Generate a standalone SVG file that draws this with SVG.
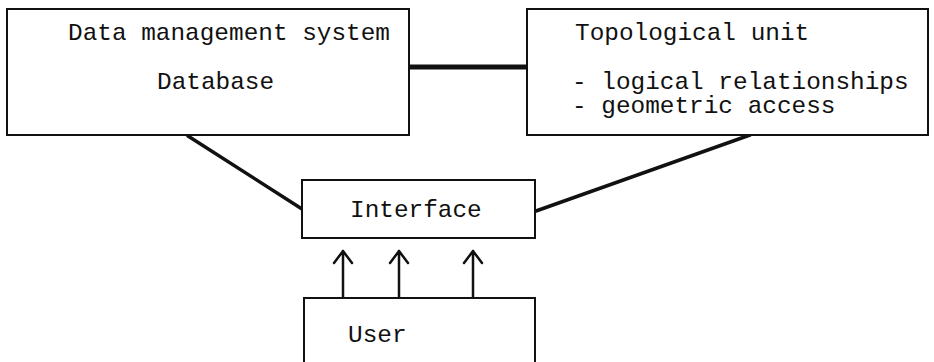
<svg xmlns="http://www.w3.org/2000/svg" width="934" height="362" viewBox="0 0 934 362">
<defs>
<style>
.box{fill:#fff;stroke:#111;stroke-width:2}
.t{font-family:"Liberation Mono","Courier New",monospace;font-size:24.4px;fill:#111}
.c{stroke:#111;stroke-width:3.5;fill:none;stroke-linecap:round}
.a{stroke:#111;stroke-width:2.5;fill:none;stroke-linecap:round;stroke-linejoin:round}
</style>
</defs>
<rect width="934" height="362" fill="#fff"/>
<g id="connectors">
<line class="c" x1="409" y1="67" x2="526" y2="67" style="stroke-width:5"/>
<line class="c" x1="188" y1="136" x2="302" y2="209"/>
<line class="c" x1="750" y1="135" x2="536" y2="211"/>
<path class="a" d="M343,297 V251 M334,263 L343,251 L352,263"/>
<path class="a" d="M399,297 V251 M390,263 L399,251 L408,263"/>
<path class="a" d="M473,297 V251 M464,263 L473,251 L482,263"/>
</g>
<g id="dms">
<rect class="box" x="7" y="9" width="402" height="126"/>
<text class="t" x="68" y="40">Data management system</text>
<text class="t" x="157" y="89">Database</text>
</g>
<g id="topo">
<rect class="box" x="527" y="9" width="401" height="126"/>
<text class="t" x="575" y="40">Topological unit</text>
<text class="t" x="572" y="89">- logical relationships</text>
<text class="t" x="572" y="113">- geometric access</text>
</g>
<g id="interface">
<rect class="box" x="302" y="180" width="233" height="58"/>
<text class="t" x="350" y="217">Interface</text>
</g>
<g id="user">
<rect class="box" x="304" y="298" width="231" height="80"/>
<text class="t" x="348" y="342">User</text>
</g>
</svg>
